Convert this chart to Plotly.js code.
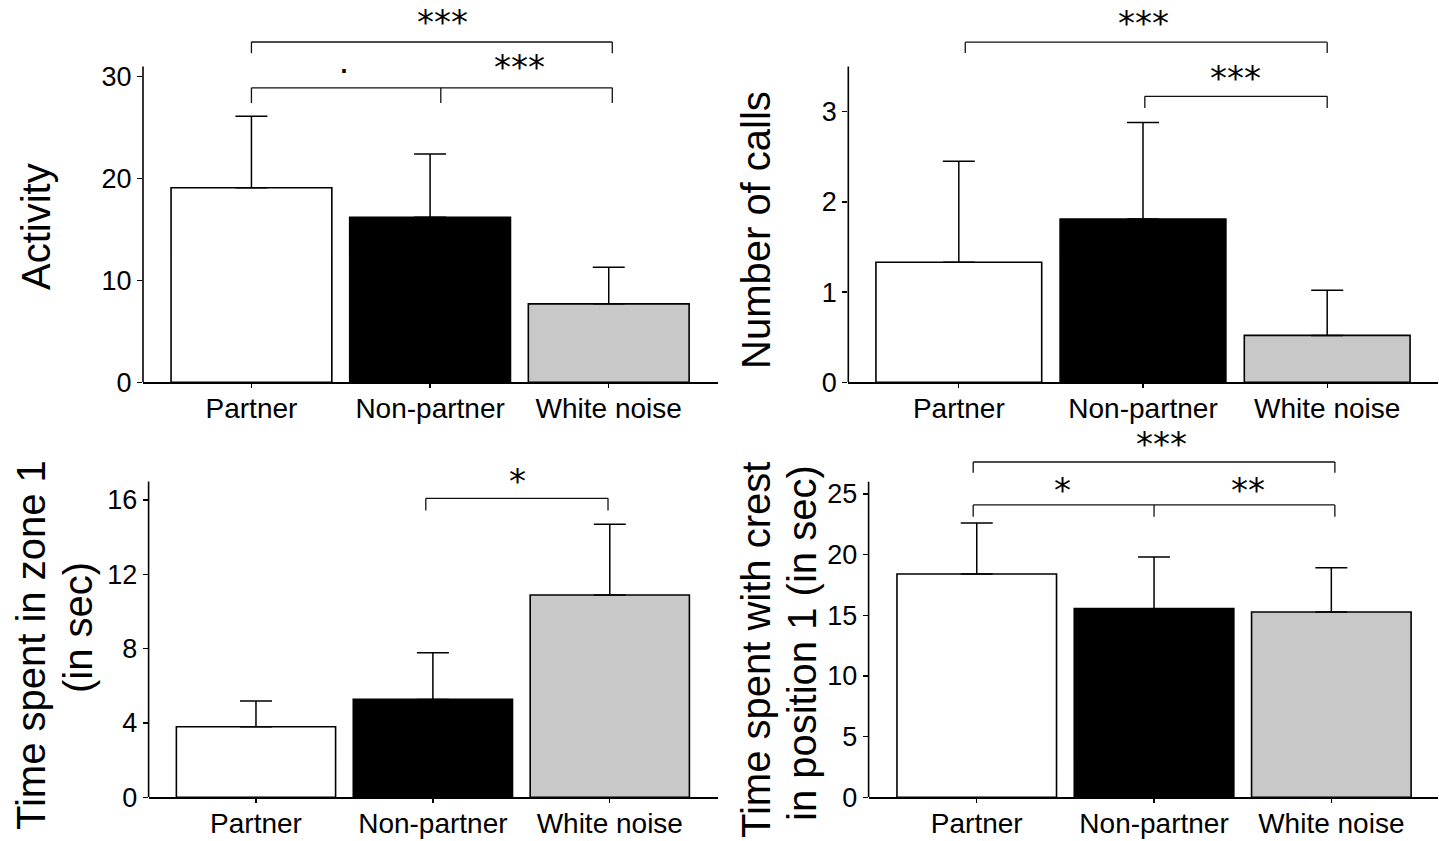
<!DOCTYPE html>
<html><head><meta charset="utf-8">
<script src="https://cdn.plot.ly/plotly-3.0.1.min.js"></script>
<style>html,body{margin:0;padding:0;background:#fff}#chart{width:1439px;height:841px}</style>
</head><body><div id="chart"></div>
<script>
// ---------- data ----------
const categories = ["Partner", "Non-partner", "White noise"];
const activityMean = [19.1, 16.2, 7.7];
const activityErr  = [7.0, 6.2, 3.6];
const callsMean = [1.33, 1.81, 0.52];
const callsErr  = [1.12, 1.07, 0.50];
const zoneMean = [3.8, 5.27, 10.89];
const zoneErr  = [1.38, 2.51, 3.8];
const crestMean = [18.4, 15.55, 15.28];
const crestErr  = [4.2, 4.25, 3.65];
const yTickVals = [[0, 10, 20, 30], [0, 1, 2, 3], [0, 4, 8, 12, 16], [0, 5, 10, 15, 20, 25]];
const yTitleLines = [["Activity"], ["Number of calls"], ["Time spent in zone 1", "(in sec)"], ["Time spent with crest", "in position 1 (in sec)"]];
const sigLabels = [["***", "·", "***"], ["***", "***"], ["*"], ["***", "*", "**"]];

// ---------- layout config ----------
const W = 1439, H = 841;
const barColors = ["#ffffff", "#000000", "#c8c8c8"];
const FONT = "Liberation Sans, Arial, sans-serif";
const panels = [
  { mean: activityMean, err: activityErr, xd: [143, 717.7], xr: [-0.607, 2.61], yd: [382.3, 0], yr: [0, 37.52], axisTop: 31.0,
    brackets: [[0, 2.02, 33.4, 32.3, null], [0, 2.02, 28.9, 27.4, 1.06]],
    labelPos: [[1.07, 35.7], [0.52, 30.8], [1.5, 31.2]],
    titlePos: [[36, 227]] },
  { mean: callsMean, err: callsErr, xd: [848.3, 1437.7], xr: [-0.60, 2.60], yd: [382.3, 0], yr: [0, 4.238], axisTop: 3.50,
    brackets: [[0.035, 2.0, 3.77, 3.65, null], [1.01, 2.0, 3.17, 3.04, null]],
    labelPos: [[1.0, 4.02], [1.5, 3.41]],
    titlePos: [[756, 230]] },
  { mean: zoneMean, err: zoneErr, xd: [148.6, 717.7], xr: [-0.607, 2.61], yd: [797.3, 440], yr: [0, 19.23], axisTop: 17.0,
    brackets: [[0.96, 1.99, 16.09, 15.43, null]],
    labelPos: [[1.48, 17.17]],
    titlePos: [[31, 645], [78, 628]] },
  { mean: crestMean, err: crestErr, xd: [868.6, 1437.7], xr: [-0.61, 2.6], yd: [797.3, 420], yr: [0, 31.1], axisTop: 26.0,
    brackets: [[-0.02, 2.02, 27.64, 26.76, null], [-0.02, 2.02, 24.1, 23.13, 1.0]],
    labelPos: [[1.04, 29.4], [0.485, 25.6], [1.53, 25.6]],
    titlePos: [[756, 650], [802, 643]] }
];

const data = [];
const layout = {
  width: W, height: H, margin: { l: 0, r: 0, t: 0, b: 0 },
  paper_bgcolor: "#ffffff", plot_bgcolor: "rgba(0,0,0,0)",
  showlegend: false, bargap: 0.1,
  font: { family: FONT, color: "#000" },
  shapes: [], annotations: []
};

panels.forEach((p, i) => {
  const n = i + 1;
  const xa = n === 1 ? "x" : "x" + n;
  const ya = n === 1 ? "y" : "y" + n;
  data.push({
    type: "bar", x: categories, y: p.mean, xaxis: xa, yaxis: ya, width: 0.9,
    marker: { color: barColors, line: { color: "#000", width: 1.6 } },
    error_y: { type: "data", symmetric: false, array: p.err, arrayminus: p.err.map(() => 0),
               color: "#000", thickness: 1.5, width: 16 },
    hoverinfo: "skip"
  });
  layout["xaxis" + (n === 1 ? "" : n)] = {
    anchor: ya, domain: [p.xd[0] / W, p.xd[1] / W], range: p.xr, type: "category",
    showline: true, linecolor: "#000", linewidth: 1.6, showgrid: false, zeroline: false,
    ticks: "outside", ticklen: 4, tickwidth: 1.3, tickcolor: "#000", ticklabelstandoff: -4,
    tickfont: { family: FONT, size: 28, color: "#000" }, fixedrange: true
  };
  layout["yaxis" + (n === 1 ? "" : n)] = {
    anchor: xa, domain: [1 - p.yd[0] / H, 1 - p.yd[1] / H], range: p.yr,
    showline: false, showgrid: false, zeroline: false,
    tickvals: yTickVals[i], ticks: "outside", ticklen: 5, tickwidth: 1.3, tickcolor: "#000",
    tickfont: { family: FONT, size: 27, color: "#000" }, fixedrange: true
  };
  // y axis line (stops at axisTop)
  layout.shapes.push({ type: "line", xref: xa + " domain", yref: ya, x0: 0, x1: 0, y0: 0, y1: p.axisTop,
                       line: { color: "#000", width: 1.6 } });
  // significance brackets
  const ln = { color: "#111", width: 1.3 };
  p.brackets.forEach(b => {
    const [x0, x1, yt, yl, xm] = b;
    layout.shapes.push({ type: "line", xref: xa, yref: ya, x0: x0, x1: x1, y0: yt, y1: yt, line: ln });
    layout.shapes.push({ type: "line", xref: xa, yref: ya, x0: x0, x1: x0, y0: yt, y1: yl, line: ln });
    layout.shapes.push({ type: "line", xref: xa, yref: ya, x0: x1, x1: x1, y0: yt, y1: yl, line: ln });
    if (xm !== null) layout.shapes.push({ type: "line", xref: xa, yref: ya, x0: xm, x1: xm, y0: yt, y1: yl, line: ln });
  });
  sigLabels[i].forEach((t, k) => {
    const isDot = t === "·";
    layout.annotations.push({
      xref: xa, yref: ya, x: p.labelPos[k][0], y: p.labelPos[k][1], text: t, showarrow: false,
      xanchor: "center", yanchor: "middle", yshift: isDot ? 0 : -3,
      font: { family: isDot ? FONT : "DejaVu Sans, sans-serif", size: isDot ? 36 : 34, color: "#000" }
    });
  });
  yTitleLines[i].forEach((t, k) => {
    layout.annotations.push({
      xref: "paper", yref: "paper", x: p.titlePos[k][0] / W, y: 1 - p.titlePos[k][1] / H,
      text: t, showarrow: false, textangle: -90, xanchor: "center", yanchor: "middle",
      font: { family: FONT, size: 40, color: "#000" }
    });
  });
});

Plotly.newPlot("chart", data, layout, { staticPlot: true, displayModeBar: false });
</script>
</body></html>
